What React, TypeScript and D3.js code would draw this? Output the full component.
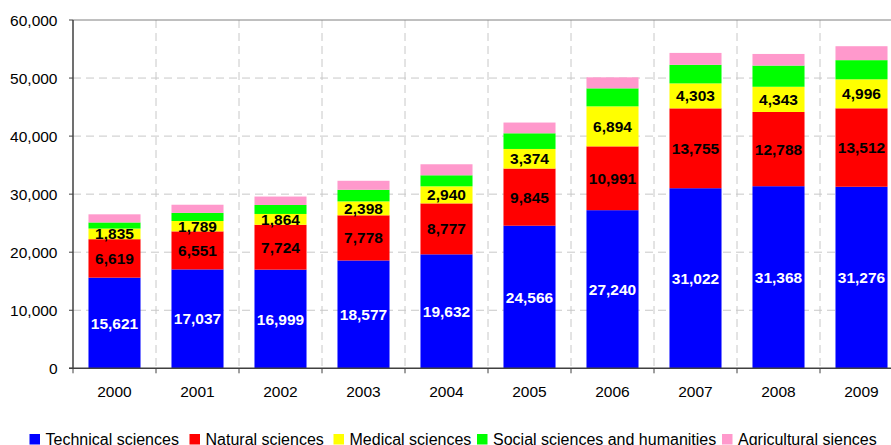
import React from "react";
import * as d3 from "d3";

const years = ["2000", "2001", "2002", "2003", "2004", "2005", "2006", "2007", "2008", "2009"];
const technical = [15621, 17037, 16999, 18577, 19632, 24566, 27240, 31022, 31368, 31276];
const natural = [6619, 6551, 7724, 7778, 8777, 9845, 10991, 13755, 12788, 13512];
const medical = [1835, 1789, 1864, 2398, 2940, 3374, 6894, 4303, 4343, 4996];
const social = [1050, 1400, 1550, 2000, 1900, 2700, 3100, 3200, 3650, 3300];
const agricultural = [1400, 1400, 1450, 1550, 1900, 1850, 1900, 2050, 2000, 2400];
const yTicks = [0, 10000, 20000, 30000, 40000, 50000, 60000];

const seriesNames = [
  "Technical sciences",
  "Natural sciences",
  "Medical sciences",
  "Social sciences and humanities",
  "Agricultural siences",
];
const seriesColors = ["#0000FF", "#FF0000", "#FFFF00", "#00FF00", "#FF99CC"];
const seriesValues = [technical, natural, medical, social, agricultural];
const labelColors = ["#FFFFFF", "#000000", "#000000", null, null];
const legendX = [29.5, 189.5, 333.5, 477, 722];

const W = 891;
const H = 445;
const FONT = "'Liberation Sans', Arial, sans-serif";

export default function App() {
  const left = 73;
  const band = 83;
  const right = left + band * years.length;
  const x = d3.scaleBand<string>().domain(years).range([left, right]).paddingInner(0.373).paddingOuter(0.1865);
  const y = d3.scaleLinear().domain([0, 60000]).range([368.3, 20]);
  const fmt = d3.format(",");

  const keys = seriesNames.map((_, i) => "s" + i);
  const table = years.map((yr, j) => {
    const row: any = { year: yr };
    keys.forEach((k, i) => (row[k] = seriesValues[i][j]));
    return row;
  });
  const stacked = d3.stack<any>().keys(keys)(table);

  const boundaries = d3.range(years.length + 1).map((k) => left + band * k);

  return (
    <svg width={W} height={H} style={{ position: "absolute", left: 0, top: 0, background: "#fff" }} fontFamily={FONT}>
      {/* horizontal gridlines */}
      {yTicks.slice(1, -1).map((t) => (
        <line key={"hg" + t} x1={left} x2={right} y1={y(t)} y2={y(t)} stroke="#C8C8C8" strokeWidth={1} strokeDasharray="8,5" />
      ))}
      {/* vertical gridlines */}
      {boundaries.slice(1).map((bx, k) => (
        <line key={"vg" + k} x1={bx} x2={bx} y1={y(60000)} y2={y(0)} stroke="#C8C8C8" strokeWidth={1} strokeDasharray="8,5" />
      ))}
      {/* top border */}
      <line x1={left} x2={right} y1={y(60000)} y2={y(60000)} stroke="#808080" strokeWidth={1} />
      {/* bars */}
      {stacked.map((layer, i) => (
        <g key={"layer" + i}>
          {layer.map((d, j) => (
            <rect
              key={j}
              x={x(years[j])}
              width={x.bandwidth()}
              y={y(d[1])}
              height={y(d[0]) - y(d[1])}
              fill={seriesColors[i]}
            />
          ))}
        </g>
      ))}
      {/* data labels */}
      {stacked.map((layer, i) =>
        labelColors[i]
          ? layer.map((d, j) => (
              <text
                key={"lbl" + i + "-" + j}
                x={(x(years[j]) as number) + x.bandwidth() / 2}
                y={(y(d[0]) + y(d[1])) / 2}
                dy="0.36em"
                textAnchor="middle"
                fontSize={15.5}
                fontWeight="bold"
                fill={labelColors[i] as string}
              >
                {fmt(seriesValues[i][j])}
              </text>
            ))
          : null
      )}
      {/* axes */}
      <line x1={left} x2={left} y1={y(60000)} y2={y(0)} stroke="#404040" strokeWidth={1.5} />
      <line x1={left - 4} x2={right} y1={y(0)} y2={y(0)} stroke="#404040" strokeWidth={1.5} />
      {yTicks.map((t) => (
        <g key={"yt" + t}>
          <line x1={left - 4} x2={left} y1={y(t)} y2={y(t)} stroke="#404040" strokeWidth={1} />
          <text x={57.5} y={y(t)} dy="0.36em" textAnchor="end" fontSize={15.5} fill="#000">
            {fmt(t)}
          </text>
        </g>
      ))}
      {boundaries.map((bx, k) => (
        <line key={"xt" + k} x1={bx} x2={bx} y1={y(0)} y2={y(0) + 5} stroke="#404040" strokeWidth={1} />
      ))}
      {years.map((yr) => (
        <text key={"xl" + yr} x={(x(yr) as number) + x.bandwidth() / 2} y={397} textAnchor="middle" fontSize={15.5} fill="#000">
          {yr}
        </text>
      ))}
      {/* legend */}
      {seriesNames.map((name, i) => (
        <g key={"lg" + i}>
          <rect x={legendX[i]} y={434} width={10.5} height={10.5} fill={seriesColors[i]} />
          <text x={legendX[i] + 16} y={445} fontSize={16} fill="#000">
            {name}
          </text>
        </g>
      ))}
    </svg>
  );
}
